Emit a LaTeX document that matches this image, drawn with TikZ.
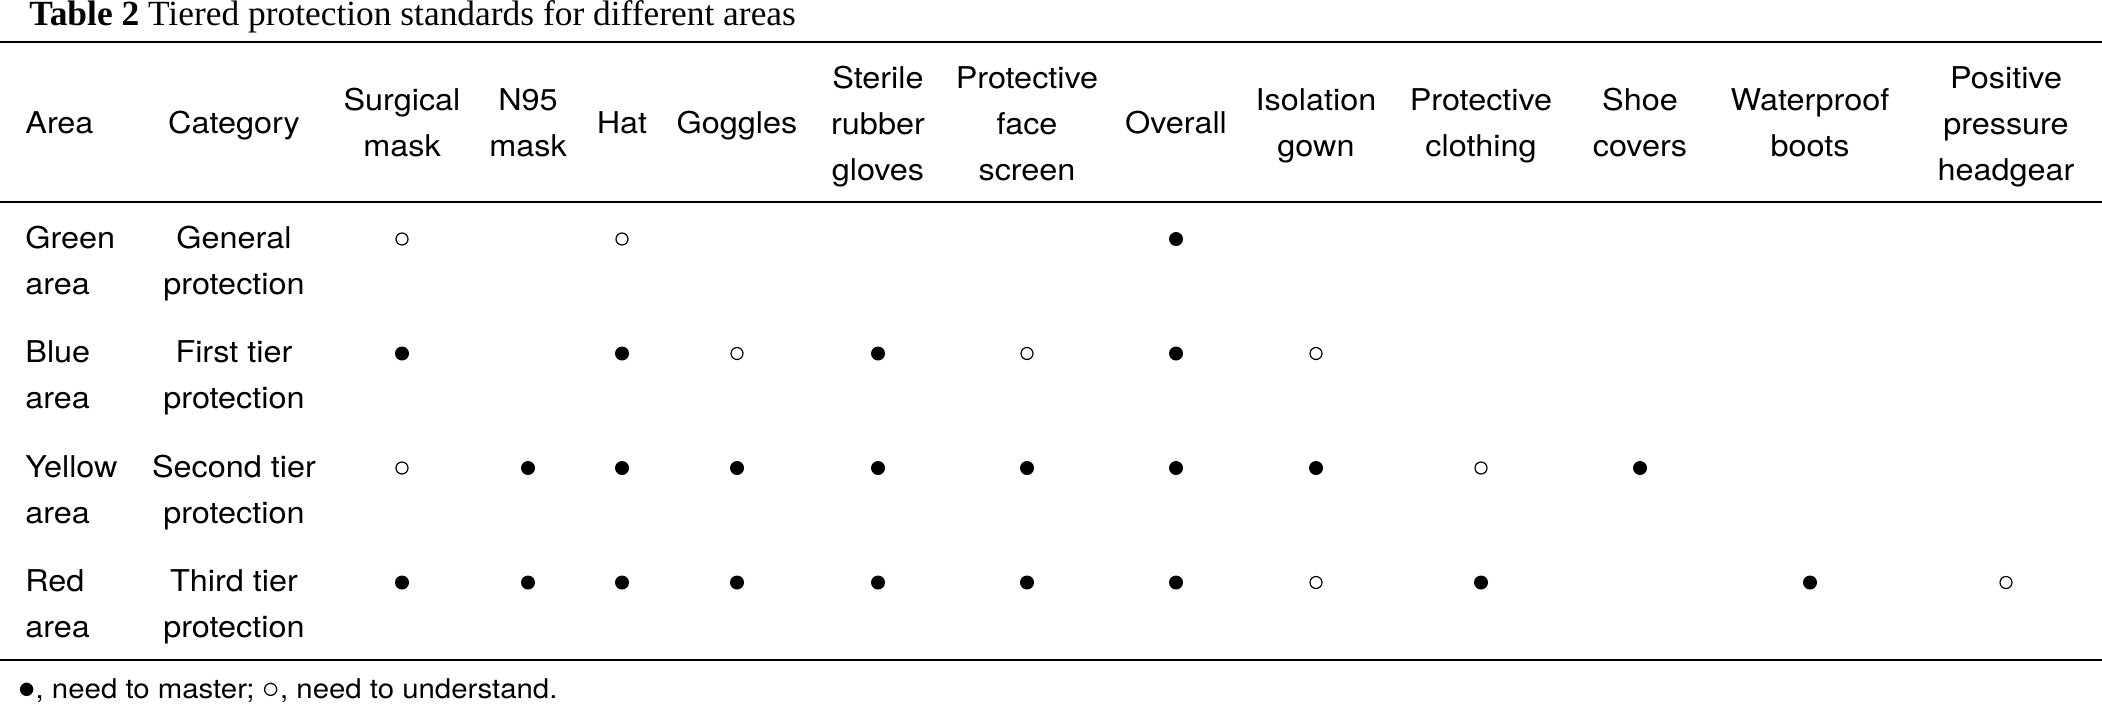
\documentclass[tikz,border=0pt]{standalone}
\usepackage{fontspec}
\usepackage{tikz}
\setmainfont{TeX Gyre Heros}[FakeStretch=1.08]
\newfontfamily\capfont{Liberation Serif}
\newcommand\tbl{\fontsize{15}{23}\selectfont}
\newcommand\ftn{\fontsize{13.6}{16}\selectfont}
\newcommand\bigsym[1]{{\fontsize{17.28}{16}\selectfont$#1$}}

\begin{document}
\begin{tikzpicture}[x=0.5pt,y=-0.5pt,
  txt/.style={align=center,anchor=base,inner sep=0pt,font=\tbl},
  lft/.style={align=left,anchor=base west,inner sep=0pt,font=\tbl},
  full/.style={circle,fill=black,inner sep=0pt,minimum size=7pt},
  empt/.style={circle,draw=black,line width=0.6pt,inner sep=0pt,minimum size=6pt},
  rule/.style={line width=1.1pt},
  midrule/.style={line width=0.7pt}]
 \useasboundingbox (0,0) rectangle (2102,707);

 % title
 \node[anchor=base west,inner sep=0pt,font=\capfont\fontsize{17.7}{20}\selectfont] (title) at (29,25)
   {\textbf{Table 2} Tiered protection standards for different areas};

 % rules
 \coordinate (topL) at (0,42);   \coordinate (topR) at (2102,42);
 \coordinate (midL) at (0,202);  \coordinate (midR) at (2102,202);
 \coordinate (botL) at (0,660);  \coordinate (botR) at (2102,660);
 \draw[rule] (topL) -- (topR);
 \draw[midrule] (midL) -- (midR);
 \draw[rule] (botL) -- (botR);

 % header (base = last line)
 \node[lft] (hArea) at (25,133) {Area};
 \node[txt] (hCat) at (234,133) {Category};
 \node[txt] (hSmask) at (402,156) {Surgical\\mask};
 \node[txt] (hN95) at (528,156) {N95\\mask};
 \node[txt] (hHat) at (622,133) {Hat};
 \node[txt] (hGog) at (737,133) {Goggles};
 \node[txt] (hGlove) at (878,180) {Sterile\\rubber\\gloves};
 \node[txt] (hFace) at (1027,180) {Protective\\face\\screen};
 \node[txt] (hOverall) at (1176,133) {Overall};
 \node[txt] (hGown) at (1316,156) {Isolation\\gown};
 \node[txt] (hCloth) at (1481,156) {Protective\\clothing};
 \node[txt] (hShoe) at (1640,156) {Shoe\\covers};
 \node[txt] (hBoot) at (1810,156) {Waterproof\\boots};
 \node[txt] (hHead) at (2006,180) {Positive\\pressure\\headgear};

 % green area
 \node[lft] (aG) at (25,294) {Green\\area};
 \node[txt] (cG) at (234,294) {General\\protection};
 \node[empt] (G-smask) at (402,239) {};
 \node[empt] (G-hat) at (622,239) {};
 \node[full] (G-overall) at (1176,239) {};

 % blue area
 \node[lft] (aB) at (25,408.5) {Blue\\area};
 \node[txt] (cB) at (234,408.5) {First tier\\protection};
 \node[full] (B-smask) at (402,353.5) {};
 \node[full] (B-hat) at (622,353.5) {};
 \node[empt] (B-gog) at (737,353.5) {};
 \node[full] (B-glove) at (878,353.5) {};
 \node[empt] (B-face) at (1027,353.5) {};
 \node[full] (B-overall) at (1176,353.5) {};
 \node[empt] (B-gown) at (1316,353.5) {};

 % yellow area
 \node[lft] (aY) at (25,523) {Yellow\\area};
 \node[txt] (cY) at (234,523) {Second tier\\protection};
 \node[empt] (Y-smask) at (402,468) {};
 \node[full] (Y-n95) at (528,468) {};
 \node[full] (Y-hat) at (622,468) {};
 \node[full] (Y-gog) at (737,468) {};
 \node[full] (Y-glove) at (878,468) {};
 \node[full] (Y-face) at (1027,468) {};
 \node[full] (Y-overall) at (1176,468) {};
 \node[full] (Y-gown) at (1316,468) {};
 \node[empt] (Y-cloth) at (1481,468) {};
 \node[full] (Y-shoe) at (1640,468) {};

 % red area
 \node[lft] (aR) at (25,637.5) {Red\\area};
 \node[txt] (cR) at (234,637.5) {Third tier\\protection};
 \node[full] (R-smask) at (402,582.5) {};
 \node[full] (R-n95) at (528,582.5) {};
 \node[full] (R-hat) at (622,582.5) {};
 \node[full] (R-gog) at (737,582.5) {};
 \node[full] (R-glove) at (878,582.5) {};
 \node[full] (R-face) at (1027,582.5) {};
 \node[full] (R-overall) at (1176,582.5) {};
 \node[empt] (R-gown) at (1316,582.5) {};
 \node[full] (R-cloth) at (1481,582.5) {};
 \node[full] (R-boot) at (1810,582.5) {};
 \node[empt] (R-head) at (2006,582.5) {};

 % note
 \node[anchor=base west,inner sep=0pt,font=\ftn] (note) at (18,698)
   {\bigsym{\bullet}, need to master; \bigsym{\circ}, need to understand.};
\end{tikzpicture}
\end{document}
